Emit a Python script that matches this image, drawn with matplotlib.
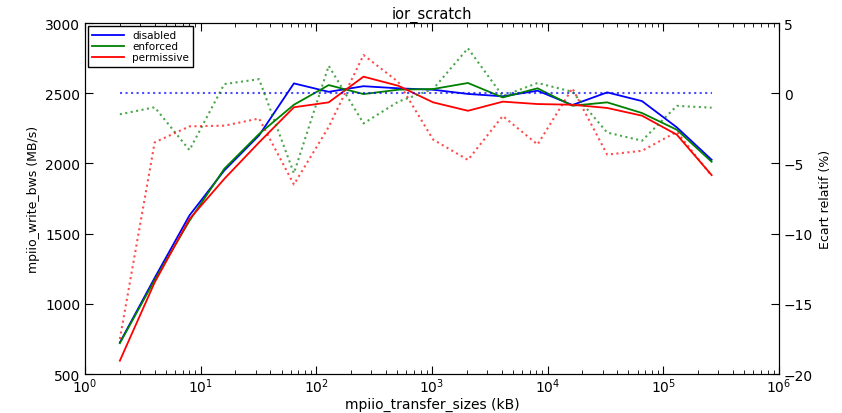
import numpy as np
import matplotlib.pyplot as plt

# transfer sizes (kB)
sizes = [2, 4, 8, 16, 32, 64, 128, 256, 512, 1024, 2048, 4096,
         8192, 16384, 32768, 65536, 131072, 262144]

# write bandwidth (MB/s)
bw_disabled = [725, 1185, 1630, 1950, 2200, 2570, 2510, 2550, 2535, 2525,
               2495, 2478, 2518, 2416, 2506, 2444, 2257, 2026]
bw_enforced = [720, 1170, 1592, 1962, 2210, 2418, 2558, 2494, 2525, 2530,
               2573, 2470, 2535, 2411, 2435, 2359, 2240, 2012]
bw_permissive = [595, 1153, 1604, 1890, 2150, 2400, 2435, 2618, 2553, 2435,
                 2375, 2440, 2423, 2418, 2395, 2340, 2205, 1917]

# relative deviation (%)
ecart_disabled = [0] * 18
ecart_enforced = [-1.5, -1.0, -4.05, 0.65, 1.0, -5.7, 1.95, -2.15, -0.6, 0.3,
                  3.2, -0.2, 0.73, 0.1, -2.8, -3.38, -0.9, -1.03]
ecart_permissive = [-17.5, -3.5, -2.36, -2.31, -1.8, -6.5, -2.4, 2.72, 0.8,
                    -3.3, -4.75, -1.62, -3.65, 0.35, -4.37, -4.1, -2.75, -5.88]

fig = plt.figure(figsize=(8.42, 4.14), dpi=100)
ax = fig.add_axes([0.101, 0.094, 0.824, 0.848])
ax2 = ax.twinx()

ax.plot(sizes, bw_disabled, color='b', lw=1.3, label='disabled')
ax.plot(sizes, bw_enforced, color='g', lw=1.3, label='enforced')
ax.plot(sizes, bw_permissive, color='r', lw=1.3, label='permissive')

ax2.plot(sizes, ecart_disabled, color='b', lw=1.5, ls=':', alpha=0.7)
ax2.plot(sizes, ecart_enforced, color='g', lw=1.5, ls=':', alpha=0.7)
ax2.plot(sizes, ecart_permissive, color='r', lw=1.5, ls=':', alpha=0.7)

ax.set_xscale('log')
ax.set_xlim(1, 1e6)
ax.set_ylim(500, 3000)
ax2.set_ylim(-20, 5)
ax.set_yticks(np.arange(500, 3001, 500))
ax2.set_yticks(np.arange(-20, 6, 5))

ax.tick_params(which='both', direction='in', top=True, labelsize=10)
ax.tick_params(which='major', length=6)
ax.tick_params(which='minor', length=3)
ax.tick_params(axis='x', which='both', pad=2)
ax2.tick_params(direction='in', length=6, labelsize=10)

ax.set_xlabel('mpiio_transfer_sizes (kB)', fontsize=10, labelpad=1)
ax.set_ylabel('mpiio_write_bws (MB/s)', fontsize=9)
ax2.set_ylabel('Ecart relatif (%)', fontsize=9)
ax.set_title('ior_scratch', fontsize=10.5, pad=4)

leg = ax.legend(loc='upper left', fontsize=7.5, fancybox=False,
                framealpha=1, edgecolor='black', handlelength=3,
                borderaxespad=0.3, labelspacing=0.1)
leg.get_frame().set_linewidth(1.0)

fig.savefig('out.png', dpi=100)
